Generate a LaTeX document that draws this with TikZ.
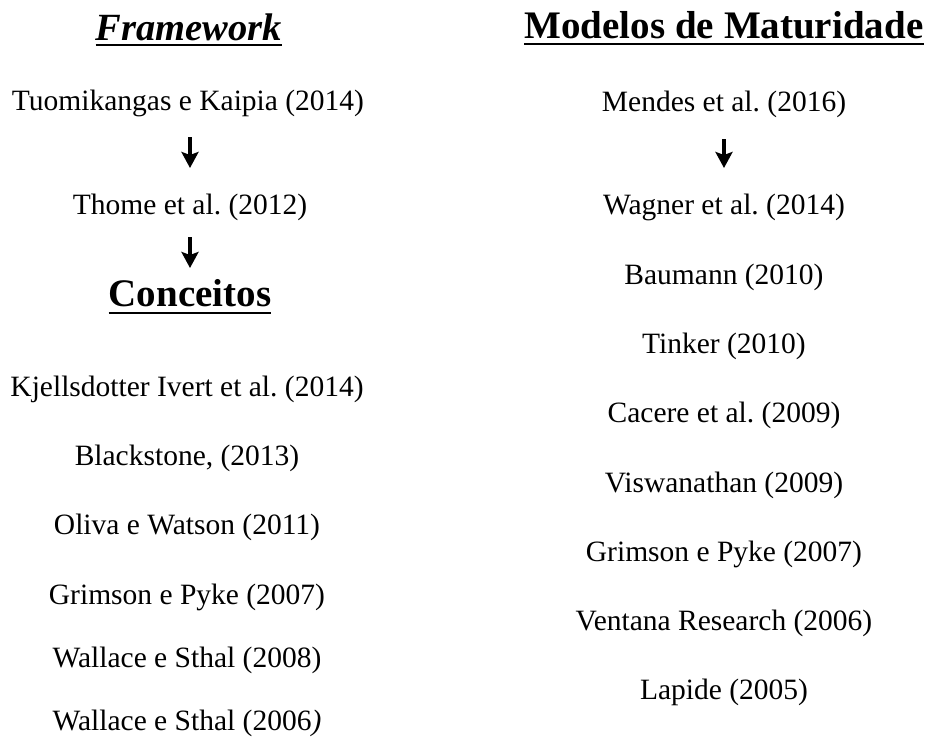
\documentclass[tikz,border=0pt]{standalone}
\usepackage{fontspec}
\setmainfont{Liberation Serif}
\usetikzlibrary{positioning,arrows.meta}
\frenchspacing

\begin{document}
\begin{tikzpicture}[x=1pt, y=-1pt,
    ref/.style={anchor=base, inner sep=0pt, font=\fontsize{29.5}{34}\selectfont},
    head/.style={anchor=base, inner sep=0pt, font=\fontsize{39}{44}\selectfont\bfseries},
    headit/.style={head, font=\fontsize{38.5}{44}\selectfont\bfseries\itshape},
    uline/.style={line width=2.6pt},
    arrow/.style={-{Stealth[length=16pt, width=17pt, inset=3pt]}, line width=3.2pt}]

\useasboundingbox (0,0) rectangle (927,747);

% left column
\node[headit] (framework) at (189,40) {Framework};
\node[ref] (tuomikangas) at (188,110) {Tuomikangas e Kaipia (2014)};
\node[ref] (thome) at (190,214) {Thome et al. (2012)};
\node[head] (conceitos) at (190,306) {Conceitos};
\node[ref] (kjellsdotter) at (187,396) {Kjellsdotter Ivert et al. (2014)};
\node[ref] (blackstone) at (187,465) {Blackstone, (2013)};
\node[ref] (oliva) at (187,534) {Oliva e Watson (2011)};
\node[ref] (grimsonA) at (187,604) {Grimson e Pyke (2007)};
\node[ref] (wallaceA) at (187,667) {Wallace e Sthal (2008)};
\node[ref] (wallaceB) at (187,730) {Wallace e Sthal (2006\textit{)}};

\draw[uline] ([yshift=-5pt]framework.base west) -- ([yshift=-5pt]framework.base east);
\draw[uline] ([yshift=-7pt]conceitos.base west) -- ([yshift=-7pt]conceitos.base east);
\draw[arrow, shorten <=27pt, shorten >=46pt] (thome.base |- tuomikangas.base) -- (thome.base);
\draw[arrow, shorten <=23pt, shorten >=38pt] (thome.base) -- (conceitos.base);

% right column
\node[head] (modelos) at (724,38) {Modelos de Maturidade};
\node[ref] (mendes) at (724,111) {Mendes et al. (2016)};
\node[ref] (wagner) at (724,214) {Wagner et al. (2014)};
\node[ref] (baumann) at (724,284) {Baumann (2010)};
\node[ref] (tinker) at (724,353) {Tinker (2010)};
\node[ref] (cacere) at (724,422) {Cacere et al. (2009)};
\node[ref] (viswanathan) at (724,492) {Viswanathan (2009)};
\node[ref] (grimsonB) at (724,561) {Grimson e Pyke (2007)};
\node[ref] (ventana) at (724,630) {Ventana Research (2006)};
\node[ref] (lapide) at (724,699) {Lapide (2005)};

\draw[uline] ([yshift=-6pt]modelos.base west) -- ([yshift=-6pt]modelos.base east);
\draw[arrow, shorten <=28pt, shorten >=46pt] (mendes.base) -- (wagner.base);
\end{tikzpicture}
\end{document}
